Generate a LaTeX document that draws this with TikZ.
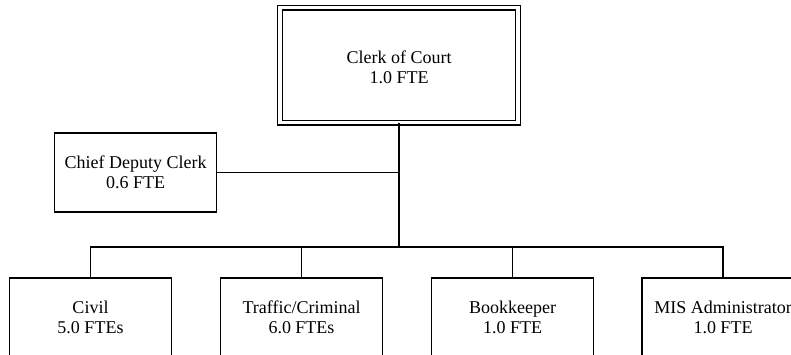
\documentclass[tikz,border=0pt]{standalone}
\usepackage{fontspec}
\setmainfont{Liberation Serif}

\begin{document}
\begin{tikzpicture}[
    x=1pt, y=-1pt,
    every node/.style={font=\fontsize{18}{20.5}\selectfont},
    unit/.style={draw, line width=1.5pt, align=center, inner sep=0pt, minimum height=79pt, minimum width=162pt},
    head/.style={draw, double, line width=1.4pt, double distance=3.2pt, align=center, inner sep=0pt, minimum width=238pt, minimum height=115pt},
    link/.style={line width=1.5pt},
    trunk/.style={line width=2.2pt}
]
\useasboundingbox (0,0) rectangle (791,354);
\clip (0,0) rectangle (791,354);
\node[head] (clerk) at (399,65) {\rule{0pt}{17.3pt}Clerk of Court\\1.0 FTE};
\node[unit] (deputy) at (135.5,172.5) {Chief Deputy Clerk\\0.6 FTE};
\node[unit] (civil) at (90.5,317.5) {Civil\\5.0 FTEs};
\node[unit] (traffic) at (301.5,317.5) {Traffic/Criminal\\6.0 FTEs};
\node[unit] (books) at (512.5,317.5) {Bookkeeper\\1.0 FTE};
\node[unit] (mis) at (723,317.5) {MIS Administrator\\1.0 FTE};
\coordinate (bus) at (399,247);
\draw[trunk] (clerk.south) -- (bus);
\draw[link] (deputy.east) -- (deputy.east -| bus);
\foreach \n in {civil,traffic,books,mis}
    \draw[link] (bus) -| (\n.north);
\end{tikzpicture}
\end{document}
